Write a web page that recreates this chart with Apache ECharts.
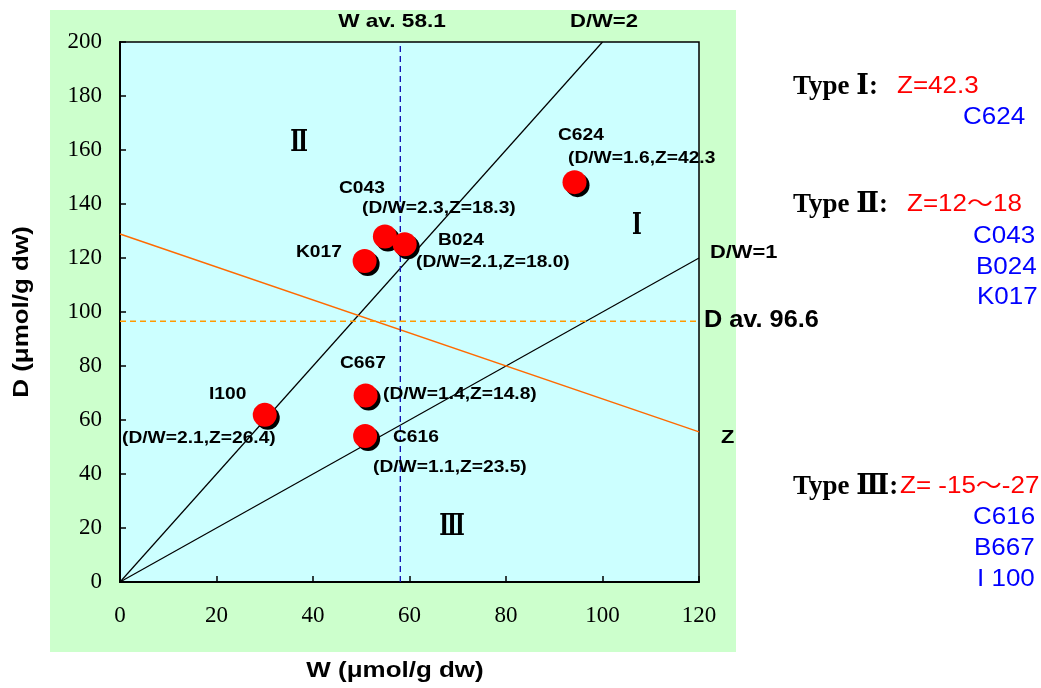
<!DOCTYPE html>
<html>
<head>
<meta charset="utf-8">
<script src="https://cdn.jsdelivr.net/npm/echarts@6/dist/echarts.min.js"></script>
<style>
html,body{margin:0;padding:0;background:#fff;}
#chart{width:1041px;height:688px;}
</style>
</head>
<body>
<div id="chart"></div>
<script>
// ---------------- DATA ----------------
const pointNames = ['C624', 'C043', 'B024', 'K017', 'C667', 'I100', 'C616'];
const wValues = [94.2, 54.9, 59.0, 50.7, 50.9, 30.0, 50.8];
const dValues = [148.1, 128.0, 125.1, 118.9, 69.1, 61.9, 54.1];
const ratioLabels = ['(D/W=1.6,Z=42.3', '(D/W=2.3,Z=18.3)', '(D/W=2.1,Z=18.0)', '', '(D/W=1.4,Z=14.8)', '(D/W=2.1,Z=26.4)', '(D/W=1.1,Z=23.5)'];

const lineDW2 = [[0, 0], [100, 200]];
const lineDW1 = [[0, 0], [120, 120]];
const lineZ = [[0, 128.9], [120, 55.6]];
const wAverage = 58.1;
const dAverage = 96.6;

const xMin = 0, xMax = 120, xStep = 20;
const yMin = 0, yMax = 200, yStep = 20;

const regionLabels = ['Ⅰ', 'Ⅱ', 'Ⅲ'];
const typeLabels = ['Type Ⅰ:', 'Type Ⅱ:', 'Type Ⅲ:'];
const typeZ = ['Z=42.3', 'Z=12～18', 'Z= -15～-27'];
const typeMembers = [['C624'], ['C043', 'B024', 'K017'], ['C616', 'B667', 'I 100']];

// ---------------- LAYOUT ----------------
const SANS = "'Liberation Sans', Arial, 'Noto Sans CJK JP', sans-serif";
const SERIF = "'Liberation Serif', 'DejaVu Serif', serif";

// label layout per point: [nameX, nameY, ratioX, ratioY] (left x, middle y)
const pointLabelPos = [
  [558, 135, 568, 158],
  [339, 188, 362, 208],
  [438, 240, 416, 262],
  [296, 252, 0, 0],
  [340, 363, 383, 394],
  [209, 394, 122, 438],
  [393, 437, 373, 467]
];
const regionPos = [[637, 226], [299, 143], [452, 527]];
const typeY = [87, 205, 487];
const typeZX = [897, 907, 900];
const memberX = [[963], [973, 976, 977], [973, 974, 977]];
const memberY = [[118], [237, 268, 298], [518, 549, 580]];

const chart = echarts.init(document.getElementById('chart'), null, {renderer: 'canvas'});

function txt(text, x, y, o) {
  o = o || {};
  return {
    type: 'text', x: x, y: y, z: 100,
    scaleX: o.sx || 1, scaleY: o.sy || 1, rotation: o.rot || 0,
    style: {
      text: text,
      fontSize: o.size || 16,
      fontWeight: o.weight || 'normal',
      fontFamily: o.family || SANS,
      fill: o.color || '#000',
      align: o.align || 'left',
      verticalAlign: 'middle'
    }
  };
}

const graphics = [
  {type: 'rect', z: -100, shape: {x: 50, y: 10, width: 686, height: 642}, style: {fill: '#CCFFCC'}}
];

// point labels
pointNames.forEach(function (n, i) {
  const p = pointLabelPos[i];
  graphics.push(txt(n, p[0], p[1], {size: 17, weight: 'bold', sx: 1.13}));
  if (ratioLabels[i]) graphics.push(txt(ratioLabels[i], p[2], p[3], {size: 17, weight: 'bold', sx: 1.13}));
});
// line annotations
graphics.push(txt('W av. ' + wAverage, 392, 22, {size: 19, weight: 'bold', sx: 1.19, align: 'center'}));
graphics.push(txt('D/W=2', 604, 22, {size: 19, weight: 'bold', sx: 1.16, align: 'center'}));
graphics.push(txt('D/W=1', 710, 253, {size: 19, weight: 'bold', sx: 1.15}));
graphics.push(txt('D av. ' + dAverage, 704, 321, {size: 23, weight: 'bold', sx: 1.1}));
graphics.push(txt('Z', 721, 438, {size: 19, weight: 'bold', sx: 1.15}));
// region numerals
regionLabels.forEach(function (r, i) {
  graphics.push(txt(r, regionPos[i][0], regionPos[i][1], {size: 30, weight: 'bold', family: "'DejaVu Serif', serif", align: 'center', sx: 0.7}));
});
// axis titles
graphics.push(txt('W (μmol/g dw)', 395, 671, {size: 22, weight: 'bold', sx: 1.18, align: 'center'}));
graphics.push(txt('D (μmol/g dw)', 22, 312, {size: 22, weight: 'bold', sx: 1.18, align: 'center', rot: Math.PI / 2}));
// right side
typeLabels.forEach(function (t, i) {
  graphics.push(txt(t, 793, typeY[i], {size: 27, weight: 'bold', family: SERIF}));
  graphics.push(txt(typeZ[i], typeZX[i], typeY[i], {size: 23, sx: 1.13, color: '#FF0000'}));
  typeMembers[i].forEach(function (m, j) {
    graphics.push(txt(m, memberX[i][j], memberY[i][j], {size: 23, sx: 1.13, color: '#0000FF'}));
  });
});

const lineBase = {type: 'line', symbol: 'none', silent: true, animation: false};

chart.setOption({
  backgroundColor: '#ffffff',
  animation: false,
  grid: {left: 120, right: 342, top: 42, bottom: 106, show: true, backgroundColor: '#CCFFFF', borderColor: '#000', borderWidth: 1.5},
  xAxis: {
    type: 'value', min: xMin, max: xMax, interval: xStep,
    axisLine: {show: true, onZero: false, lineStyle: {color: '#000', width: 2}},
    axisTick: {show: true, inside: true, length: 6, lineStyle: {color: '#000', width: 1.5}},
    axisLabel: {color: '#000', fontSize: 23, fontFamily: SERIF, margin: 22},
    splitLine: {show: false}
  },
  yAxis: {
    type: 'value', min: yMin, max: yMax, interval: yStep,
    axisLine: {show: true, onZero: false, lineStyle: {color: '#000', width: 2}},
    axisTick: {show: true, inside: true, length: 6, lineStyle: {color: '#000', width: 1.5}},
    axisLabel: {color: '#000', fontSize: 23, fontFamily: SERIF, margin: 18},
    splitLine: {show: false}
  },
  series: [
    Object.assign({}, lineBase, {name: 'D/W=2', data: lineDW2, lineStyle: {color: '#000', width: 1.2}}),
    Object.assign({}, lineBase, {name: 'D/W=1', data: lineDW1, lineStyle: {color: '#000', width: 1.2}}),
    Object.assign({}, lineBase, {name: 'Z', data: lineZ, lineStyle: {color: '#FF6A00', width: 1.4}}),
    Object.assign({}, lineBase, {name: 'W av', data: [[wAverage, yMin], [wAverage, yMax]], lineStyle: {color: '#1414B4', width: 1.4, type: [6, 4]}}),
    Object.assign({}, lineBase, {name: 'D av', data: [[xMin, dAverage], [xMax, dAverage]], lineStyle: {color: '#FF9900', width: 1.5, type: [6, 4]}}),
    {
      type: 'scatter', name: 'shadow', silent: true, animation: false,
      symbolSize: 24, symbolOffset: [3, 3],
      itemStyle: {color: '#000', opacity: 1},
      data: wValues.map(function (w, i) { return [w, dValues[i]]; }),
      z: 5
    },
    {
      type: 'scatter', name: 'samples', silent: true, animation: false,
      symbolSize: 24,
      itemStyle: {color: '#FF0000', opacity: 1},
      data: wValues.map(function (w, i) { return {name: pointNames[i], value: [w, dValues[i]]}; }),
      z: 6
    }
  ],
  graphic: graphics
});
</script>
</body>
</html>
